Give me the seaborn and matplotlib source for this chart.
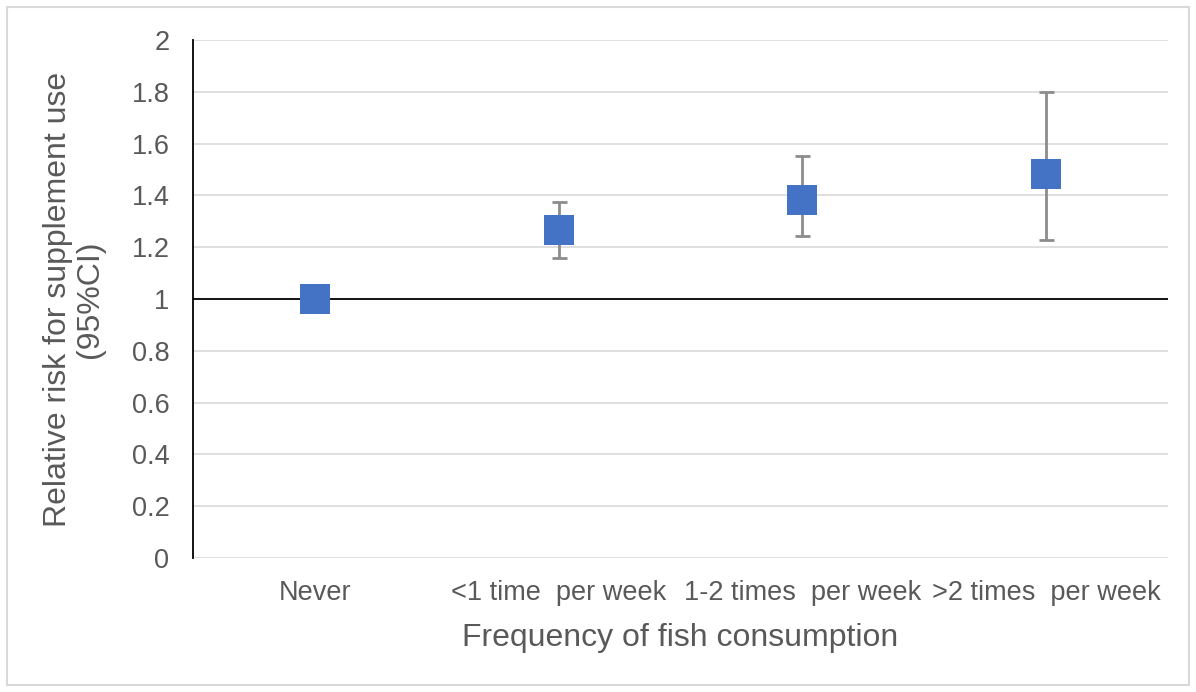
import matplotlib
matplotlib.use("Agg")
import matplotlib.pyplot as plt
import seaborn as sns
import pandas as pd
import numpy as np

categories = ["Never", "<1 time  per week", "1-2 times  per week", ">2 times  per week"]
rr = [1.0, 1.267, 1.382, 1.482]
ci_low = [1.0, 1.157, 1.242, 1.227]
ci_high = [1.0, 1.373, 1.553, 1.799]
yticks = [0, 0.2, 0.4, 0.6, 0.8, 1, 1.2, 1.4, 1.6, 1.8, 2]
ytick_labels = ["0", "0.2", "0.4", "0.6", "0.8", "1", "1.2", "1.4", "1.6", "1.8", "2"]

sns.set_theme(style="white")
plt.rcParams['font.family'] = ['Liberation Sans', 'DejaVu Sans']

df = pd.DataFrame({"cat": categories, "rr": rr, "lo": ci_low, "hi": ci_high})

fig = plt.figure(figsize=(11.96, 6.92), dpi=100)
ax = fig.add_axes([193/1196, 1 - 558/692, (1168-193)/1196, (558-40)/692])

# grid lines
for t in yticks:
    if t == 1:
        continue
    ax.axhline(t, color="#d9d9d9", lw=1.2, zorder=0)
ax.axhline(1, color="black", lw=1.3, zorder=1)

# error bars
err_lo = np.array(rr) - np.array(ci_low)
err_hi = np.array(ci_high) - np.array(rr)
mask = (err_lo + err_hi) > 0
ax.errorbar(np.arange(len(categories))[mask], np.array(rr)[mask],
            yerr=[err_lo[mask], err_hi[mask]], fmt="none",
            ecolor="#8c8c8c", elinewidth=2, capsize=5.4, capthick=2, zorder=2)

sns.scatterplot(data=df, x="cat", y="rr", marker="s", s=467, color="#4472C4",
                edgecolor="#4472C4", linewidth=0, ax=ax, zorder=3)

ax.set_xlim(-0.5, 3.5)
ax.set_ylim(0, 2)
ax.set_yticks(yticks)
ax.set_yticklabels(ytick_labels)
ax.tick_params(axis="both", length=0, labelsize=19.5, colors="#595959")
ax.tick_params(axis="y", pad=17)
ax.tick_params(axis="x", pad=16)

for side in ["top", "right", "bottom"]:
    ax.spines[side].set_visible(False)
ax.spines["left"].set_color("black")
ax.spines["left"].set_linewidth(1.3)

ax.set_xlabel("Frequency of fish consumption", fontsize=23, color="#595959", labelpad=12)
ax.set_ylabel("Relative risk for supplement use\n(95%CI)", fontsize=23, color="#595959",
              labelpad=19, linespacing=1.08)

# outer border
fig.patches.append(plt.Rectangle((7/1196, 7/692), 1 - 14/1196, 1 - 14/692,
                                 transform=fig.transFigure, fill=False,
                                 edgecolor="#d9d9d9", lw=1.5))

fig.savefig("out.png", dpi=100)
